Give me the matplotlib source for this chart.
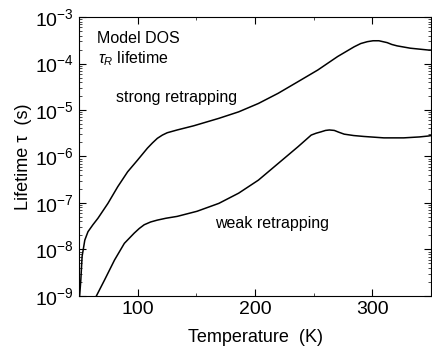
import matplotlib

matplotlib.use("Agg")

import matplotlib.pyplot as plt
import numpy as np
from matplotlib.ticker import LogLocator, MultipleLocator

plt.rcParams["font.family"] = ["Liberation Sans", "DejaVu Sans"]
plt.rcParams["mathtext.fontset"] = "custom"
plt.rcParams["mathtext.rm"] = "Liberation Sans"
plt.rcParams["mathtext.it"] = "Liberation Sans:italic"

# strong retrapping: temperature (K) and log10 lifetime (s)
strong_t = [50.5, 51.5, 52.6, 54.9, 57.6, 61.8, 66.1, 74.6, 83.0, 91.4, 99.8,
            108.3, 112.5, 116.7, 121.0, 125.1, 133.6, 147.7, 169.1, 186.0,
            202.8, 219.7, 236.6, 253.4, 270.3, 284.4, 290.0, 295.6, 300.5,
            305.5, 309.0, 312.5, 316.5, 321.0, 332.2, 347.7, 350]
strong_log = [-9.0, -8.66, -8.15, -7.80, -7.62, -7.47, -7.33, -7.01, -6.65,
              -6.33, -6.08, -5.82, -5.71, -5.61, -5.54, -5.49, -5.43, -5.34,
              -5.18, -5.04, -4.86, -4.64, -4.39, -4.14, -3.85, -3.64, -3.57,
              -3.53, -3.51, -3.51, -3.53, -3.55, -3.59, -3.62, -3.67, -3.71,
              -3.71]

# weak retrapping
weak_t = [64.6, 71.7, 80.2, 88.6, 97.0, 101.3, 105.5, 111.0, 116.7, 124.0,
          133.6, 150.5, 169.1, 186.0, 202.8, 219.7, 236.6, 247.8, 252.0,
          256.2, 260.0, 263.3, 267.5, 271.5, 275.9, 284.0, 292.8, 309.7,
          326.6, 340.0, 347.7, 350]
weak_log = [-9.01, -8.66, -8.23, -7.87, -7.65, -7.55, -7.47, -7.41, -7.37,
            -7.33, -7.29, -7.18, -7.01, -6.79, -6.51, -6.15, -5.79, -5.54,
            -5.50, -5.47, -5.44, -5.43, -5.44, -5.48, -5.52, -5.55, -5.57,
            -5.60, -5.60, -5.58, -5.56, -5.55]

fig = plt.figure(figsize=(4.32, 3.63), dpi=100)
ax = fig.add_axes([0.183, 0.185, 0.815, 0.768])

ax.plot(strong_t, 10 ** np.array(strong_log), color="black", lw=1.1)
ax.plot(weak_t, 10 ** np.array(weak_log), color="black", lw=1.1)

ax.set_yscale("log")
ax.set_xlim(50, 350)
ax.set_ylim(1e-9, 1e-3)
ax.set_xticks([100, 200, 300])
ax.xaxis.set_minor_locator(MultipleLocator(50))
ax.yaxis.set_major_locator(LogLocator(base=10, numticks=10))
ax.yaxis.set_minor_locator(LogLocator(base=10, subs=np.arange(2, 10), numticks=20))

ax.tick_params(which="both", direction="in", top=True, right=True,
               labelsize=14)
ax.tick_params(which="major", length=5, width=0.8)
ax.tick_params(which="minor", length=2.5, width=0.5)

ax.set_xlabel("Temperature  (K)", fontsize=13, labelpad=8)
ax.set_ylabel("Lifetime \u03c4  (s)", fontsize=13, labelpad=2)

ax.text(0.051, 0.907, "Model DOS", transform=ax.transAxes, fontsize=11.5,
        va="baseline")
ax.text(0.054, 0.835, r"$\tau_R$ lifetime", transform=ax.transAxes,
        fontsize=11.5, va="baseline")
ax.text(0.105, 0.695, "strong retrapping", transform=ax.transAxes,
        fontsize=11.5, va="baseline")
ax.text(0.386, 0.244, "weak retrapping", transform=ax.transAxes,
        fontsize=11.5, va="baseline")

fig.savefig("out.png", dpi=100)
